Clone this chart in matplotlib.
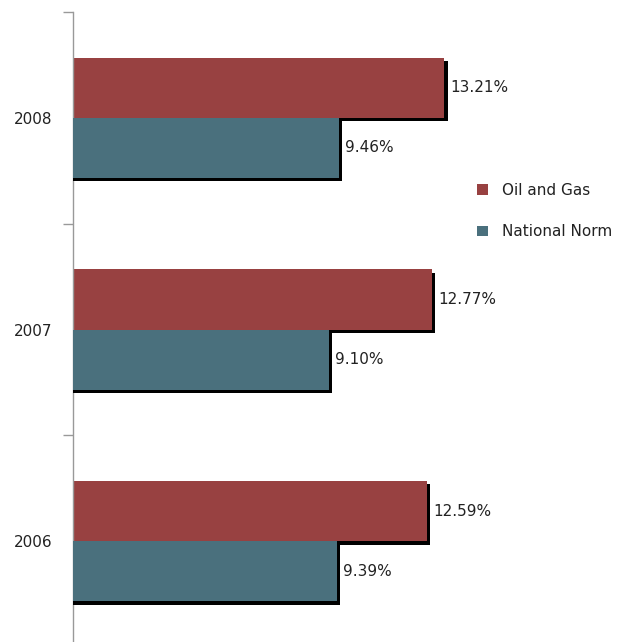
import matplotlib
matplotlib.use("Agg")
import matplotlib.pyplot as plt
import matplotlib.patheffects as pe
import numpy as np

years = ["2006", "2007", "2008"]
oil_gas = [12.59, 12.77, 13.21]
national = [9.39, 9.10, 9.46]
series_names = ["Oil and Gas", "National Norm"]
colors = ["#984141", "#4A707D"]

W, H = 637, 642
fig = plt.figure(figsize=(W / 100, H / 100), dpi=100)
ax_left = 73 / W
ax_bottom = -5 / H
ax_top = (H - 12) / H
ax_right = 1.0
ax = fig.add_axes([ax_left, ax_bottom, ax_right - ax_left, ax_top - ax_bottom])

y = np.arange(len(years))
h = 0.285
lead = 0.15  # bars start slightly left of the axis (clipped) so the shadow reaches the axis
shadow = [pe.SimplePatchShadow(offset=(2.6, -2.4), shadow_rgbFace="black", alpha=1.0), pe.Normal()]

b1 = ax.barh(y + h / 2, np.array(oil_gas) + lead, left=-lead, height=h, color=colors[0],
             label=series_names[0], zorder=2)
b2 = ax.barh(y - h / 2, np.array(national) + lead, left=-lead, height=h, color=colors[1],
             label=series_names[1], zorder=3)
for b in list(b1) + list(b2):
    b.set_path_effects(shadow)

fs = 11
for yi, v in zip(y, oil_gas):
    ax.annotate(f"{v:.2f}%", (v, yi + h / 2), xytext=(4.5, 0), textcoords="offset points",
                va="center", ha="left", fontsize=fs, color="#222222")
for yi, v in zip(y, national):
    ax.annotate(f"{v:.2f}%", (v, yi - h / 2), xytext=(4.5, 0), textcoords="offset points",
                va="center", ha="left", fontsize=fs, color="#222222")

ax.set_xlim(0, (W - 73) / 28.1)
ax.set_ylim(-0.5, len(years) - 0.5)
ax.set_yticks(y)
ax.set_yticklabels(years, fontsize=fs, color="#222222")
ax.set_yticks(np.arange(-0.5, len(years), 1.0), minor=True)
ax.tick_params(axis="y", which="major", length=0, pad=15)
ax.tick_params(axis="y", which="minor", length=7, color="#999999", width=1)
ax.set_xticks([])
for s in ["top", "right", "bottom"]:
    ax.spines[s].set_visible(False)
ax.spines["left"].set_color("#999999")
ax.spines["left"].set_linewidth(1)

leg = ax.legend(loc="center left", bbox_to_anchor=(477 / W, (H - 211) / H), bbox_transform=fig.transFigure,
                frameon=False, fontsize=fs, handlelength=0.72, handleheight=0.72,
                handletextpad=0.9, labelspacing=1.75, borderaxespad=0, borderpad=0)
for t in leg.get_texts():
    t.set_color("#222222")
for hd in leg.legend_handles:
    hd.set_path_effects([])

fig.savefig("out.png", dpi=100)
